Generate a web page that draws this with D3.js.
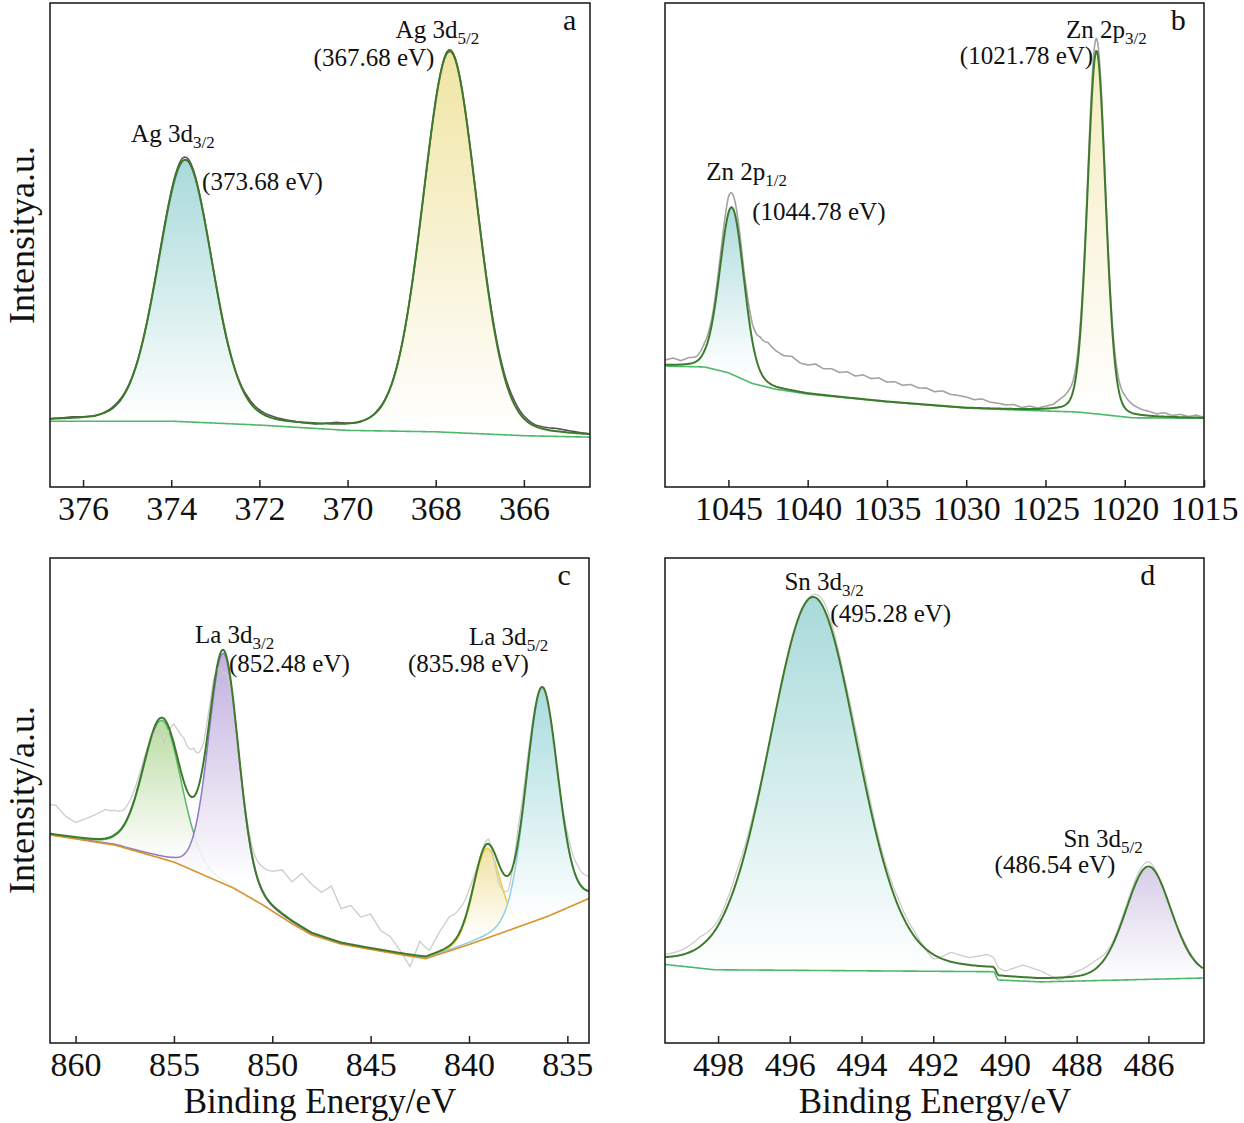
<!DOCTYPE html>
<html><head><meta charset="utf-8">
<script src="https://cdn.jsdelivr.net/npm/d3@7"></script>
<style>body{margin:0;background:#fff}svg{display:block}text{font-family:"Liberation Serif","Times New Roman",serif;fill:#111}</style>
</head><body><svg id="c" width="1244" height="1123"></svg>
<script>
// ---- panel a: Ag 3d ----
const aDomain = [376.75, 364.5];
const aTicks = [376, 374, 372, 370, 368, 366];
const aBackground = [[376.75,13.6],[374,13.6],[372,12.8],[370,11.7],[368,11.4],[366,10.6],[364.5,10.3]];
const aPeaks = [ // center eV, height %, fwhm eV
  {c:373.68, h:54, w:1.45, fill:"#9fd6d6", line:null},
  {c:367.68, h:78.7, w:1.45, fill:"#efe29a", line:null}];
const aRawStart = 376.75, aRawStep = 0.5;
const aRawExcess = [0,0.2,-0.1,0.3,0.1,0.4,0.6,0.2,-0.3,0.5,0.4,0.1,-0.2,0.3,-0.1,0.2,0,-0.2,0.3,0.1,0.5,0.8,0.3,0.6,0.2,-0.1,0.3];

// ---- panel b: Zn 2p ----
const bDomain = [1049, 1015];
const bTicks = [1045, 1040, 1035, 1030, 1025, 1020, 1015];
const bBackground = [[1049,25],[1046.5,24.8],[1045,23.6],[1043.5,21.4],[1042,20.2],[1040,19.2],[1035,17.6],[1030,16.3],[1025,15.7],[1023,15.5],[1021.5,15.0],[1019.5,14.3],[1015,14.2]];
const bPeaks = [
  {c:1044.78, h:34.5, w:1.8, fill:"#a6d8da", line:null},
  {c:1021.78, h:75, w:1.35, fill:"#f3eab8", line:null}];
const bRawStart = 1049, bRawStep = 0.5;
const bRawExcess = [1.0,1.4,0.8,1.3,1.0,1.6,1.2,2.0,3.3,2.5,1.5,3.5,7.0,8.2,7.4,6.8,7.0,6.0,5.8,6.2,5.4,5.6,5.0,5.3,4.6,5.0,4.4,4.7,4.0,4.2,3.6,3.9,3.3,3.4,2.8,3.1,2.5,2.4,2.2,1.7,1.9,1.3,1.1,0.8,0.9,0.3,0.6,0.2,0.5,0.8,1.8,2.4,2.0,1.5,3.0,2.0,1.0,2.2,2.6,1.8,1.2,0.9,0.5,0.8,0.3,0.6,0.2,0.5,0.1];

// ---- panel c: La 3d ----
const cDomain = [861.3, 833.9];
const cTicks = [860, 855, 850, 845, 840, 835];
const cBackground = [[861.3,42.9],[858,40.8],[855,37.3],[852,32],[850.5,28.5],[849,24.6],[848,22.3],[846.5,20.4],[845,19.3],[843,17.9],[842.2,17.4],[840,20.3],[838,23.2],[836,26.1],[833.9,29.8]];
const cPeaks = [
  {c:855.6, h:28.5, w:2.3, fill:"#b3d89a", line:"#5cb86a"},
  {c:852.48, h:47.5, w:1.8, fill:"#bba8dc", line:"#8b7bc4"},
  {c:839.1, h:18.5, w:1.6, fill:"#f0df9a", line:"#e6d040"},
  {c:836.3, h:47.5, w:1.9, fill:"#9fd8dc", line:"#8fd0de"}];
const cRawStart = 861, cRawStep = 0.5;
const cRawExcess = [6,4,3,4,5,6,5,3,2,1,-1,-5,4,9,10,4,2,-5,-1,0,2,5,7,9,8,11,10,9,11,7,8,6,7,4,3,0.5,-2.5,3,1,4,6,5,3,0,1,-4,-3,3,2,0,-1,-1,2,3,3];

// ---- panel d: Sn 3d ----
const dDomain = [499.48, 484.45];
const dTicks = [498, 496, 494, 492, 490, 488, 486];
const dBackground = [[499.48,16.2],[498.1,15.1],[490.3,14.7],[490.2,13.0],[489,12.6],[484.45,13.4]];
const dPeaks = [
  {c:495.35, h:77, w:2.9, fill:"#9fd6d6", line:null},
  {c:486.0, h:23, w:1.5, fill:"#d2c8e6", line:null}];
const dRawStart = 499.5, dRawStep = 0.5;
const dRawExcess = [0.5,1,2,1,2,1,0,-1,0,1.5,1,2,1,1.5,1,-1,2,1.5,2.5,1,2.5,1.5,-0.5,1,1.8,0.5,0.8,1,-0.5,0.5,0,0];

// ---- labels (x in eV, y in %) ----
const labels = [
  {p:0, x:374.91, y:71.3, t:"Ag 3d", sub:"3/2"},{p:0, x:373.3, y:61.4, t:"(373.68 eV)"},
  {p:0, x:368.91, y:92.8, t:"Ag 3d", sub:"5/2"},{p:0, x:370.77, y:87.0, t:"(367.68 eV)"},
  {p:1, x:1023.7, y:92.8, t:"Zn 2p", sub:"3/2"},{p:1, x:1030.4, y:87.4, t:"(1021.78 eV)"},
  {p:1, x:1046.4, y:63.4, t:"Zn 2p", sub:"1/2"},{p:1, x:1043.5, y:55.2, t:"(1044.78 eV)"},
  {p:2, x:853.93, y:82.5, t:"La 3d", sub:"3/2"},{p:2, x:852.2, y:76.5, t:"(852.48 eV)"},
  {p:2, x:840.0, y:82.1, t:"La 3d", sub:"5/2"},{p:2, x:843.1, y:76.5, t:"(835.98 eV)"},
  {p:3, x:496.15, y:93.4, t:"Sn 3d", sub:"3/2"},{p:3, x:494.87, y:86.8, t:"(495.28 eV)"},
  {p:3, x:488.37, y:40.4, t:"Sn 3d", sub:"5/2"},{p:3, x:490.29, y:35.1, t:"(486.54 eV)"}];
const letters = ["a", "b", "c", "d"];
const letterPos = [[365.11, 94.4], [1017.1, 94.4], [835.5, 94.4], [486.23, 94.4]];

const panels = [
  {dom:aDomain, ticks:aTicks, bg:aBackground, peaks:aPeaks, rs:aRawStart, rst:aRawStep, rx:aRawExcess, raw:"#555", rawW:1.6, box:[50,3,590,487]},
  {dom:bDomain, ticks:bTicks, bg:bBackground, peaks:bPeaks, rs:bRawStart, rst:bRawStep, rx:bRawExcess, raw:"#a3a3a3", rawW:1.6, box:[665,3,1204,487]},
  {dom:cDomain, ticks:cTicks, bg:cBackground, peaks:cPeaks, rs:cRawStart, rst:cRawStep, rx:cRawExcess, raw:"#cccccc", rawW:1.3, box:[50,558,589,1043], bgColor:"#d9922e"},
  {dom:dDomain, ticks:dTicks, bg:dBackground, peaks:dPeaks, rs:dRawStart, rst:dRawStep, rx:dRawExcess, raw:"#cccccc", rawW:1.3, box:[665,558,1204,1043]}];

const svg = d3.select("#c");
const defs = svg.append("defs");

// pseudo-Voigt peak shape
function pv(x, p) {
  const s = (x - p.c) / (p.w / 2);
  return p.h * (0.85 * Math.exp(-Math.LN2 * s * s) + 0.15 / (1 + s * s));
}

panels.forEach((P, i) => {
  const [x0, y0, x1, y1] = P.box;
  const x = d3.scaleLinear().domain(P.dom).range([x0, x1]);
  const y = d3.scaleLinear().domain([0, 100]).range([y1, y0]);
  const bgS = d3.scaleLinear().domain(P.bg.map(d => d[0])).range(P.bg.map(d => d[1]));
  const exS = d3.scaleLinear().domain(P.rx.map((d, k) => P.rs - k * P.rst)).range(P.rx).clamp(true);
  const xs = d3.range(P.dom[0], P.dom[1] - 0.01, -0.05);
  const env = v => bgS(v) + d3.sum(P.peaks, p => pv(v, p));
  const g = svg.append("g");
  defs.append("clipPath").attr("id", "cl" + i).append("rect")
    .attr("x", x0).attr("y", y0).attr("width", x1 - x0).attr("height", y1 - y0);
  const plot = g.append("g").attr("clip-path", `url(#cl${i})`);

  P.peaks.forEach((p, j) => {
    const gid = `gr${i}_${j}`;
    const gr = defs.append("linearGradient").attr("id", gid).attr("gradientUnits", "userSpaceOnUse")
      .attr("x1", 0).attr("x2", 0).attr("y1", y(bgS(p.c) + p.h)).attr("y2", y(bgS(p.c)));
    gr.append("stop").attr("offset", 0).attr("stop-color", p.fill);
    gr.append("stop").attr("offset", 1).attr("stop-color", "#fff");
    const pts = xs.filter(v => Math.abs(v - p.c) < p.w * 4);
    plot.append("path").datum(pts)
      .attr("d", d3.area().x(v => x(v)).y0(v => y(bgS(v))).y1(v => y(bgS(v) + pv(v, p))))
      .attr("fill", `url(#${gid})`).attr("opacity", 0.9);
    if (p.line) plot.append("path").datum(pts)
      .attr("d", d3.line().x(v => x(v)).y(v => y(bgS(v) + pv(v, p))))
      .attr("fill", "none").attr("stroke", p.line).attr("stroke-width", 1.5);
  });
  plot.append("path").datum(xs)
    .attr("d", d3.line().x(v => x(v)).y(v => y(env(v) + exS(v))))
    .attr("fill", "none").attr("stroke", P.raw).attr("stroke-width", P.rawW);
  plot.append("path").datum(xs)
    .attr("d", d3.line().curve(d3.curveMonotoneX).x(v => x(v)).y(v => y(bgS(v))))
    .attr("fill", "none").attr("stroke", P.bgColor || "#4cb86a").attr("stroke-width", 1.6);
  plot.append("path").datum(xs)
    .attr("d", d3.line().x(v => x(v)).y(v => y(env(v))))
    .attr("fill", "none").attr("stroke", "#3f7a2c").attr("stroke-width", 2);

  g.append("rect").attr("x", x0).attr("y", y0).attr("width", x1 - x0).attr("height", y1 - y0)
    .attr("fill", "none").attr("stroke", "#222").attr("stroke-width", 1.6);
  const ax = g.append("g").attr("transform", `translate(0,${y1})`)
    .call(d3.axisBottom(x).tickValues(P.ticks).tickSize(-7).tickPadding(9).tickFormat(d3.format("d")));
  ax.select(".domain").remove();
  ax.selectAll("line").attr("stroke", "#222").attr("stroke-width", 1.5);
  ax.selectAll("text").attr("font-size", 34).attr("fill", "#111").style("font-family", "Liberation Serif");

  g.append("text").attr("x", x(letterPos[i][0])).attr("y", y(letterPos[i][1]))
    .attr("font-size", 30).text(letters[i]);

  labels.filter(l => l.p === i).forEach(l => {
    const t = g.append("text").attr("x", x(l.x)).attr("y", y(l.y)).attr("font-size", 25);
    t.append("tspan").text(l.t);
    if (l.sub) t.append("tspan").attr("dy", 6).attr("font-size", 17).text(l.sub);
  });
});

svg.append("text").attr("transform", "translate(34,235) rotate(-90)").attr("text-anchor", "middle")
  .attr("font-size", 36).text("Intensitya.u.");
svg.append("text").attr("transform", "translate(34,800) rotate(-90)").attr("text-anchor", "middle")
  .attr("font-size", 36).text("Intensity/a.u.");
svg.append("text").attr("x", 320).attr("y", 1113).attr("text-anchor", "middle").attr("font-size", 35).text("Binding Energy/eV");
svg.append("text").attr("x", 935).attr("y", 1113).attr("text-anchor", "middle").attr("font-size", 35).text("Binding Energy/eV");
</script></body></html>
